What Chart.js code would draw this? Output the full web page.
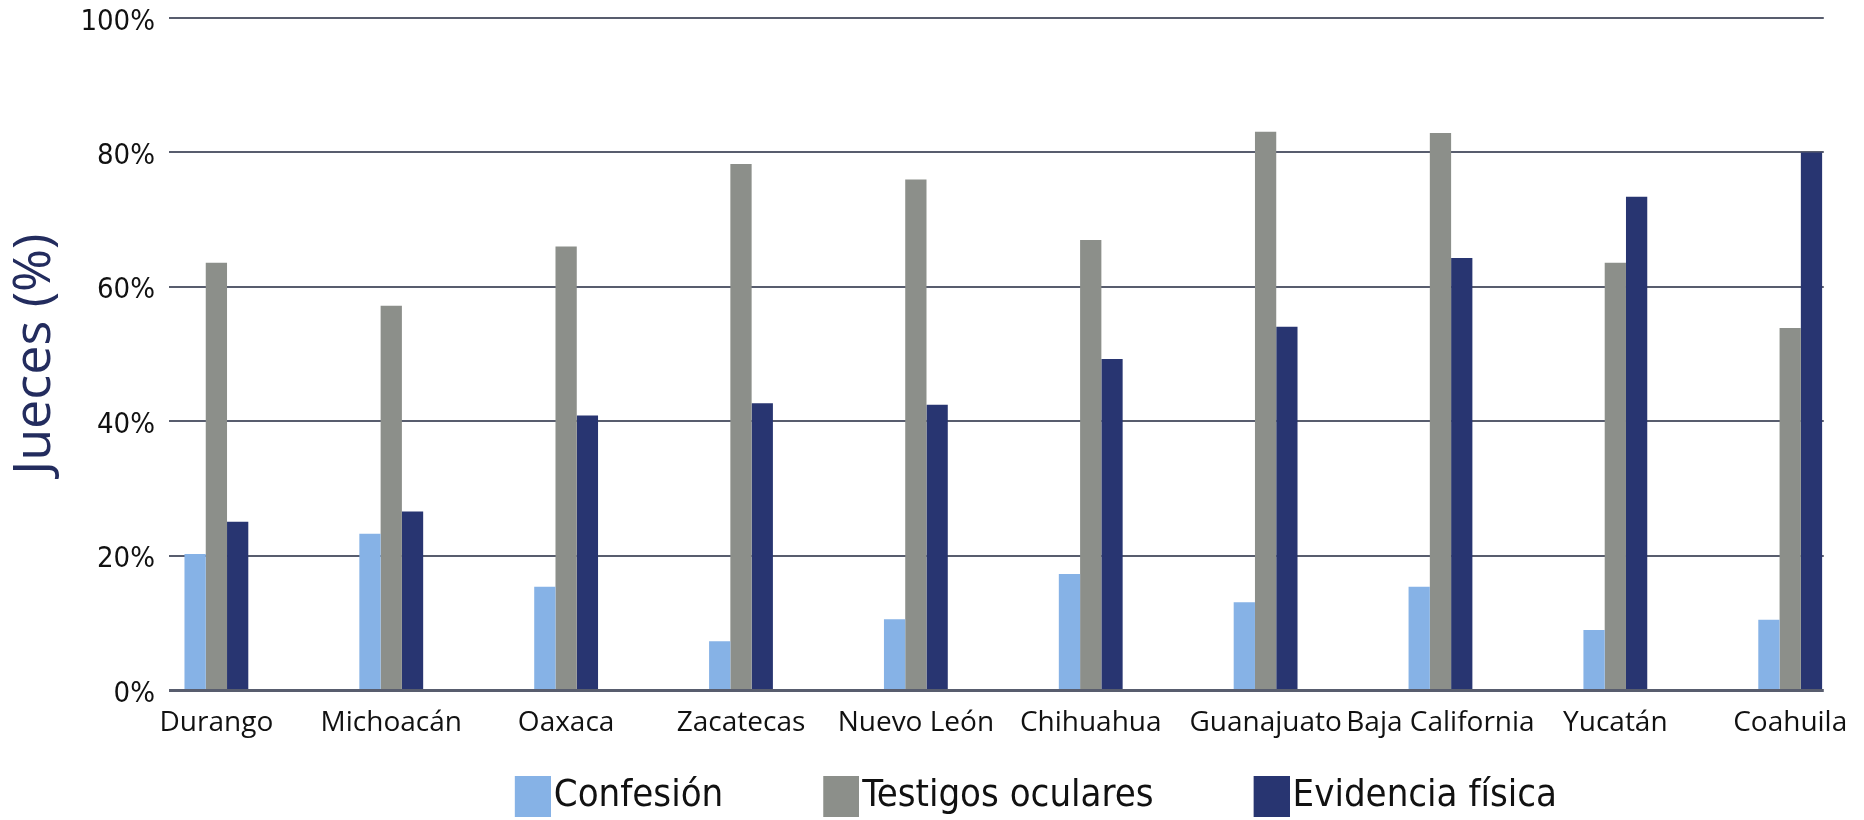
<!DOCTYPE html>
<html>
<head>
<meta charset="utf-8">
<script src="https://cdn.jsdelivr.net/npm/chart.js@4"></script>
<style>
  html, body { margin: 0; padding: 0; background: #fff; }
  #wrap { width: 1864px; height: 820px; position: relative; }
</style>
</head>
<body>
<div id="wrap"><canvas id="chart"></canvas></div>
<script>
// datos
const estados = ['Durango', 'Michoacán', 'Oaxaca', 'Zacatecas', 'Nuevo León', 'Chihuahua', 'Guanajuato', 'Baja California', 'Yucatán', 'Coahuila'];
const confesion = [20.3, 23.3, 15.4, 7.3, 10.6, 17.3, 13.1, 15.4, 9.0, 10.5];
const testigos = [63.6, 57.2, 66.0, 78.3, 76.0, 67.0, 83.1, 82.9, 63.6, 53.9];
const evidencia = [25.1, 26.6, 40.9, 42.7, 42.5, 49.3, 54.1, 64.3, 73.4, 80.0];
const series = ['Confesión', 'Testigos oculares', 'Evidencia física'];
const colores = ['#86b2e6', '#8c8f8a', '#283571'];
const yTicks = [0, 20, 40, 60, 80, 100];

const condensed = '"Liberation Sans Narrow", "DejaVu Sans Condensed", "Open Sans", sans-serif';
const legendSize = 38;
const legendGap = 99;

// cuadrito de la leyenda: parte izquierda transparente para que el texto quede pegado
function swatch(color) {
    const c = document.createElement('canvas');
    c.width = legendGap + legendSize - 6;
    c.height = 41;
    const g = c.getContext('2d');
    g.fillStyle = color;
    g.fillRect(c.width - 36, 0, 36, 41);
    return c;
}
const swatches = colores.map(swatch);

const toPoints = arr => arr.map((v, i) => ({ x: i, y: v }));

const ctx = document.getElementById('chart').getContext('2d');
new Chart(ctx, {
    type: 'bar',
    data: {
        datasets: [
            { label: series[0], data: toPoints(confesion), backgroundColor: colores[0] },
            { label: series[1], data: toPoints(testigos), backgroundColor: colores[1] },
            { label: series[2], data: toPoints(evidencia), backgroundColor: colores[2] }
        ]
    },
    options: {
        responsive: true,
        maintainAspectRatio: false,
        animation: false,
        categoryPercentage: 0.365,
        barPercentage: 1,
        layout: { padding: { top: 18, left: 0, right: 37, bottom: -5 } },
        plugins: {
            title: { display: false },
            tooltip: { enabled: false },
            legend: {
                position: 'bottom',
                fullSize: false,
                labels: {
                    usePointStyle: true,
                    pointStyleWidth: legendGap,
                    padding: 21,
                    color: '#111',
                    font: { family: condensed, size: legendSize, lineHeight: 1 },
                    generateLabels: chart =>
                        Chart.defaults.plugins.legend.labels.generateLabels(chart)
                            .map((item, i) => ({ ...item, pointStyle: swatches[i] }))
                }
            }
        },
        scales: {
            x: {
                type: 'linear',
                offset: false,
                min: -0.271,
                max: 9.192,
                grid: { display: false, drawTicks: false },
                border: { display: false },
                ticks: {
                    stepSize: 1,
                    includeBounds: false,
                    autoSkip: false,
                    maxRotation: 0,
                    padding: 16,
                    color: '#111',
                    font: { family: '"Open Sans", sans-serif', size: 28 },
                    callback: value => Number.isInteger(value) ? estados[value] : ''
                }
            },
            y: {
                min: 0,
                max: 100,
                afterBuildTicks: scale => { scale.ticks = yTicks.map(v => ({ value: v })); },
                afterFit: scale => {
                    scale.width = 169;
                    scale.paddingTop = 0;
                    scale.paddingBottom = 0;
                },
                grid: {
                    color: '#585d6e',
                    lineWidth: c => c.tick && c.tick.value === 0 ? 3 : 2,
                    drawTicks: false
                },
                border: { display: false },
                ticks: {
                    padding: 14,
                    labelOffset: 4,
                    color: '#111',
                    font: { family: condensed, size: 29, lineHeight: 1 },
                    callback: value => value + '%'
                },
                title: {
                    display: true,
                    text: 'Jueces (%)',
                    color: '#232c5e',
                    font: { family: '"Open Sans", sans-serif', size: 52 }
                }
            }
        }
    }
});
</script>
</body>
</html>
